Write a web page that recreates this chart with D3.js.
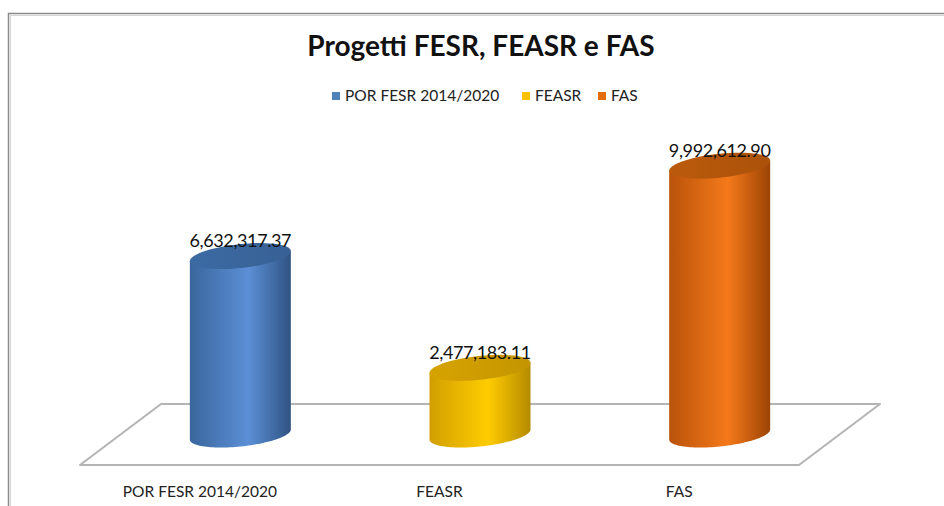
<!DOCTYPE html>
<html>
<head>
<meta charset="utf-8">
<script src="https://cdn.jsdelivr.net/npm/d3@7/dist/d3.min.js"></script>
<style>
  body { margin: 0; background: #fff; }
  svg { display: block; font-family: Lato, "Open Sans", sans-serif; }
</style>
</head>
<body>
<div id="chart"></div>
<script>
// chart data
var categories = ["POR FESR 2014/2020", "FEASR", "FAS"];
var values = [6632317.37, 2477183.11, 9992612.90];
var valueLabels = ["6,632,317.37", "2,477,183.11", "9,992,612.90"];

// colours: [legend, dark edge, light middle, right edge, top]
var palette = [
    {key: "#4f81bd", left: "#3a669c", mid: "#5b8fd6", right: "#2f5383", top: "#3c6aa3"},
    {key: "#ffc000", left: "#d19f00", mid: "#ffcc00", right: "#b58a00", top: "#d6a300"},
    {key: "#e36c09", left: "#b9530a", mid: "#f5791a", right: "#9c4405", top: "#bb5a0b"}
];

var width = 944, height = 506;

var svg = d3.select("#chart").append("svg")
    .attr("width", width)
    .attr("height", height);

var defs = svg.append("defs");

// outer frame
svg.append("rect")
    .attr("x", 8.5).attr("y", 13.5)
    .attr("width", 1000).attr("height", 1000)
    .style("fill", "none")
    .style("stroke", "#8a8a8a")
    .style("stroke-width", 1.5);
svg.append("rect")
    .attr("x", 10.5).attr("y", 15.5)
    .attr("width", 1000).attr("height", 1000)
    .style("fill", "none")
    .style("stroke", "#d6d6d6")
    .style("stroke-width", 1);

// title
svg.append("text")
    .attr("x", 481).attr("y", 56)
    .attr("text-anchor", "middle")
    .style("font-weight", "bold")
    .style("font-size", "28px")
    .style("fill", "#111")
    .text("Progetti FESR, FEASR e FAS");

// legend
var legendX = [332, 522, 598];
var legend = svg.selectAll(".legend")
    .data(categories)
    .enter().append("g")
    .attr("class", "legend")
    .attr("transform", function(d, i) { return "translate(" + legendX[i] + ",92)"; });
legend.append("rect")
    .attr("width", 8).attr("height", 8)
    .style("fill", function(d, i) { return palette[i].key; });
legend.append("text")
    .attr("x", 13).attr("y", 9)
    .style("font-size", "15.5px")
    .style("fill", "#222")
    .text(function(d) { return d; });

// floor: front edge and depth offset
var front = {x0: 80, x1: 799, y: 465};
var depth = {dx: 81, dy: -61};

var x = d3.scaleBand()
    .domain(categories)
    .range([front.x0, front.x1]);

// cylinders stand halfway into the floor
var baseY = front.y + depth.dy / 2;
var y = d3.scaleLinear()
    .domain([0, 10000000])
    .range([baseY, baseY - 269]);

svg.append("path")
    .attr("d", "M" + front.x0 + "," + front.y +
        "L" + front.x1 + "," + front.y +
        "L" + (front.x1 + depth.dx) + "," + (front.y + depth.dy) +
        "L" + (front.x0 + depth.dx) + "," + (front.y + depth.dy) + "Z")
    .style("fill", "#fff")
    .style("stroke", "#b4b4b4")
    .style("stroke-width", 2)
    .style("stroke-linejoin", "round");

// category labels along the front edge
svg.selectAll(".cat")
    .data(categories)
    .enter().append("text")
    .attr("class", "cat")
    .attr("x", function(d) { return x(d) + x.bandwidth() / 2; })
    .attr("y", 497)
    .attr("text-anchor", "middle")
    .style("font-size", "15.5px")
    .style("fill", "#222")
    .text(function(d) { return d; });

// cylinder geometry
var rx = 50.5, ry = 12, shear = 0.1;
function cx(d) { return x(d) + x.bandwidth() / 2 + depth.dx / 2; }

function ellipsePts(c, cy, t0, t1) {
    return d3.range(0, 61).map(function(k) {
        var t = t0 + (t1 - t0) * k / 60;
        var ex = rx * Math.cos(t);
        return [c + ex, cy + ry * Math.sin(t) - shear * ex];
    });
}
var line = d3.line();

var data = categories.map(function(c, i) { return {cat: c, value: values[i], i: i}; });

data.forEach(function(d) {
    var g = defs.append("linearGradient")
        .attr("id", "side" + d.i)
        .attr("x1", "0%").attr("x2", "100%").attr("y1", "0%").attr("y2", "0%");
    g.append("stop").attr("offset", "0%").attr("stop-color", palette[d.i].left);
    g.append("stop").attr("offset", "58%").attr("stop-color", palette[d.i].mid);
    g.append("stop").attr("offset", "100%").attr("stop-color", palette[d.i].right);

    var tg = defs.append("linearGradient")
        .attr("id", "top" + d.i)
        .attr("x1", "0%").attr("x2", "100%").attr("y1", "0%").attr("y2", "0%");
    tg.append("stop").attr("offset", "0%").attr("stop-color", palette[d.i].top);
    tg.append("stop").attr("offset", "100%").attr("stop-color", d3.color(palette[d.i].top).darker(0.25));
});

var bars = svg.selectAll(".bar")
    .data(data)
    .enter().append("g")
    .attr("class", "bar");

// side: straight sides plus the front half of the bottom ellipse
bars.append("path")
    .attr("d", function(d) {
        var c = cx(d.cat), yt = y(d.value), yb = y(0);
        var bottom = ellipsePts(c, yb, Math.PI, 0);
        var pts = [[c - rx, yt + shear * rx]].concat(bottom);
        pts.push([c + rx, yt - shear * rx]);
        return line(pts) + "Z";
    })
    .style("fill", function(d) { return "url(#side" + d.i + ")"; });

// top
bars.append("path")
    .attr("d", function(d) {
        return line(ellipsePts(cx(d.cat), y(d.value), 0, 2 * Math.PI)) + "Z";
    })
    .style("fill", function(d) { return "url(#top" + d.i + ")"; });

// value labels
bars.append("text")
    .attr("x", function(d) { return cx(d.cat); })
    .attr("y", function(d) { return y(d.value) - 9; })
    .attr("text-anchor", "middle")
    .style("font-size", "18px")
    .style("letter-spacing", "-0.4px")
    .style("fill", "#111")
    .text(function(d, i) { return valueLabels[i]; });
</script>
</body>
</html>
